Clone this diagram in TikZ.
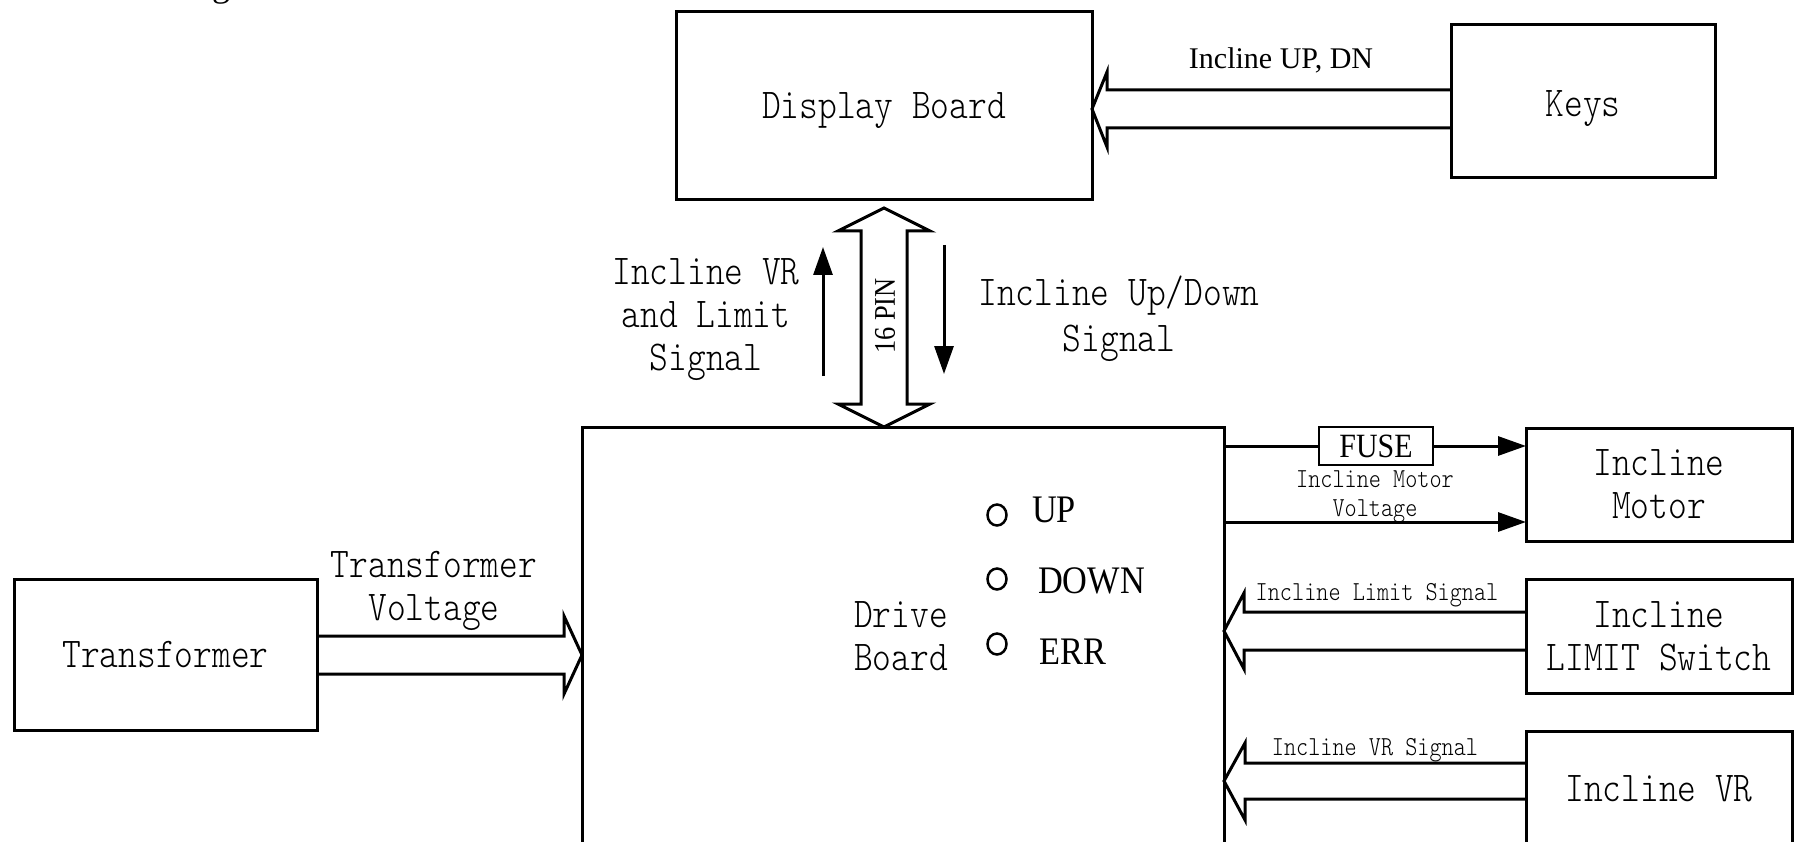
\documentclass[tikz,border=0pt]{standalone}
\usepackage{fontspec}
\setmainfont{Liberation Serif}
\newfontfamily\ming[FakeStretch=0.84]{lmmonolt10-regular.otf}
\newfontfamily\tms[FakeStretch=0.88]{Liberation Serif}
\newfontfamily\tmsn{Liberation Serif}
\usetikzlibrary{arrows.meta,calc,shapes.geometric}
\newcommand\bigtxt{\ming\fontsize{42.5}{43}\selectfont}
\newcommand\smalltxt{\ming\fontsize{27.5}{29}\selectfont}
\begin{document}
\begin{tikzpicture}[x=1pt,y=-1pt,
  box/.style={draw,line width=3pt,outer sep=0pt,inner sep=0pt,align=center,font=\bigtxt},
  harrow/.style={draw,line width=3pt,line join=miter},
  thinarr/.style={line width=3pt,-{Triangle[length=28pt,width=19pt]}},
  ledline/.style={line width=2.5pt},
  lbl/.style={align=center,inner sep=0pt,font=\bigtxt},
  slbl/.style={align=center,inner sep=0pt,font=\smalltxt},
  tlbl/.style={inner sep=0pt,anchor=base west,font={\tms\fontsize{39}{39}\selectfont}}]
\useasboundingbox (0,0) rectangle (1798,842);
\clip (0,0) rectangle (1798,842);

% fragment of a cut-off heading
\node[inner sep=0pt,anchor=base,font={\tmsn\fontsize{36}{36}\selectfont}] (gfrag) at (221,-3) {g};

% boxes
\node[box,minimum width=416pt,minimum height=188pt] (disp) at (884,106) {};
\node[lbl] (disptxt) at (884,110.6) {Display Board};
\node[box,minimum width=264pt,minimum height=153pt] (keys) at (1583,101.5) {};
\node[lbl] (keystxt) at (1583,108.5) {Keys};
\node[box,minimum width=642pt,minimum height=473pt] (drive) at (903,663.5) {};
\node[box,minimum width=303pt,minimum height=151pt] (trans) at (165.5,654.5) {Transformer};
\node[box,minimum width=266pt,minimum height=113pt] (motor) at (1659,484.5) {Incline\\Motor};
\node[box,minimum width=266pt,minimum height=114pt] (limit) at (1659,636) {Incline\\LIMIT Switch};
\node[box,minimum width=266pt,minimum height=116pt] (vr) at (1659,789) {Incline VR};

% drive board contents
\node[lbl] (drivelbl) at (901,636) {Drive\\Board};
\coordinate (l1) at (997,515);
\coordinate (l2) at (997,579);
\coordinate (l3) at (997,644);
\draw[ledline] (l1) ellipse [x radius=9.5pt,y radius=10.5pt];
\draw[ledline] (l2) ellipse [x radius=9.5pt,y radius=10.5pt];
\draw[ledline] (l3) ellipse [x radius=9.5pt,y radius=10.5pt];
\node[tlbl] (up) at (1032,522) {UP};
\node[tlbl] (down) at (1038,593) {DOWN};
\node[tlbl] (err) at (1039,664) {ERR};

% keys -> display
\draw[harrow] (keys.west |- 0,90) -- (1107,90) -- (1107,72) -- (disp.east |- 0,109)
  -- (1107,147) -- (1107,128) -- (keys.west |- 0,128);
\node[inner sep=0pt,font={\tmsn\fontsize{30}{30}\selectfont}] (keyslbl) at (1281,60) {Incline UP, DN};

% 16 PIN double arrow
\draw[harrow] ($(disp.south)+(0,8)$) -- (930,231) -- (907,231) -- (907,404) -- (930,404)
  -- (disp.south |- drive.north) -- (838,404) -- (861,404) -- (861,231) -- (838,231) -- cycle;
\node[inner sep=0pt,rotate=90,font={\tms\fontsize{30}{30}\selectfont}] (pin) at (885,316) {16 PIN};

% signal arrows between boards
\coordinate (ua1) at (823,376);
\coordinate (ua2) at (823,247);
\coordinate (da1) at (944,245);
\coordinate (da2) at (944,374);
\draw[thinarr] (ua1) -- (ua2);
\draw[thinarr] (da1) -- (da2);
\node[lbl] (vrlim) at (706,320) {Incline VR\\and Limit\\Signal};
\node[lbl,font={\ming\fontsize{42.5}{46}\selectfont}] (updn) at (1119,318.5) {Incline Up/Down\\Signal};

% transformer -> drive
\draw[harrow] (trans.east |- 0,636) -- (564,636) -- (564,616) -- (drive.west |- 0,655)
  -- (564,694) -- (564,674) -- (trans.east |- 0,674);
\node[lbl] (translbl) at (434,591) {Transformer\\Voltage};

% drive -> motor
\node[draw,line width=2pt,fill=white,minimum width=114pt,minimum height=38pt,inner sep=0pt,
  font={\tms\fontsize{34}{34}\selectfont}] (fuse) at (1376,446) {FUSE};
\draw[line width=3pt] (drive.east |- fuse.west) -- (fuse.west);
\draw[thinarr] (fuse.east) -- (motor.west |- fuse.east);
\draw[thinarr] (drive.east |- 0,522) -- (motor.west |- 0,522);
\node[slbl] (motlbl) at (1375,496.5) {Incline Motor\\Voltage};

% limit switch -> drive
\draw[harrow] (limit.west |- 0,612) -- (1244,612) -- (1244,593) -- (drive.east |- 0,631)
  -- (1244,669) -- (1244,650) -- (limit.west |- 0,650);
\node[slbl] (limlbl) at (1377,595) {Incline Limit Signal};

% VR -> drive
\draw[harrow] (vr.west |- 0,763) -- (1245,763) -- (1245,743) -- (drive.east |- 0,781)
  -- (1245,820) -- (1245,799) -- (vr.west |- 0,799);
\node[slbl] (vrlbl) at (1375,750) {Incline VR Signal};
\end{tikzpicture}
\end{document}
